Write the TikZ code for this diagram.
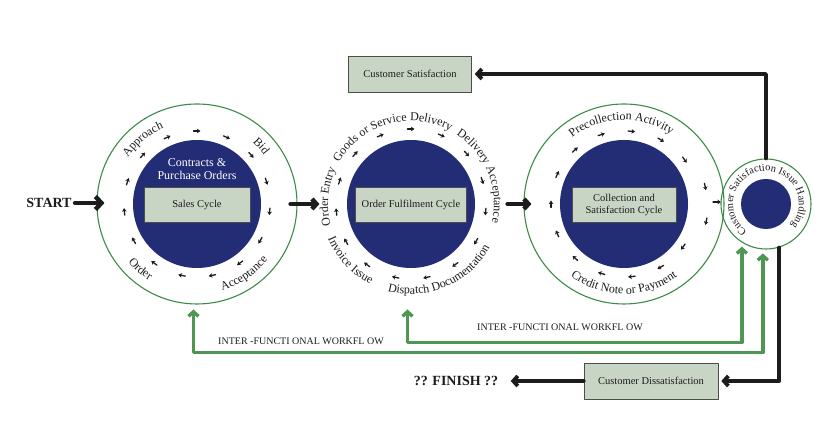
\documentclass[tikz,border=0pt]{standalone}
\usepackage{fontspec}
\setmainfont{Liberation Serif}
\usetikzlibrary{arrows.meta,calc,decorations.text}
\definecolor{navy}{RGB}{35,45,118}
\definecolor{ringgreen}{RGB}{62,138,72}
\definecolor{flowgreen}{RGB}{78,150,82}
\definecolor{boxfill}{RGB}{200,213,196}
\definecolor{ink}{RGB}{28,28,28}
\newcommand{\ringfont}{\fontsize{12}{14}\selectfont}
\newcommand{\smallringfont}{\fontsize{10.5}{12}\selectfont}
\begin{document}
\begin{tikzpicture}[x=1pt,y=1pt,line join=round,line cap=round,font=\fontsize{10.5}{12}\selectfont]
			\tikzset{ring/.style={circle,draw=ringgreen,line width=1.1pt,minimum size=200pt,inner sep=0pt},
				core/.style={circle,fill=navy,minimum size=128pt,inner sep=0pt},
				cyclebox/.style={draw=black!70,fill=boxfill,line width=0.6pt,minimum height=35pt,align=center,text=ink},
				tick/.style={ink,line width=1.3pt,-{Stealth[length=3.6pt,width=4.6pt]}},
				bigarrow/.style={ink,line width=3.8pt,-{Straight Barb[length=4.5pt,width=10pt]}},
				workflow/.style={flowgreen,line width=3.4pt,{Straight Barb[length=4.5pt,width=10pt]}-{Straight Barb[length=4.5pt,width=10pt]}},
				ring label/.style={postaction={decorate},decoration={text along path,text align=center,text color=ink,text={|\ringfont|#1}}},
				small ring label/.style={postaction={decorate},decoration={text along path,text align=center,text color=ink,text={|\smallringfont|#1}}}}
			\useasboundingbox (0,0) rectangle (825,435);
			% the four cycles
			\node[ring] (sales) at (197,231) {};
			\node[core] (sales core) at (sales) {};
			\node[ring,draw=none] (fulfil) at (411,231) {};
			\node[core] (fulfil core) at (fulfil) {};
			\node[ring] (collect) at (624,231) {};
			\node[core] (collect core) at (collect) {};
			\node[ring,minimum size=90pt] (issue) at (766,231) {};
			\node[core,minimum size=50pt] (issue core) at (issue) {};
			\node[cyclebox,minimum width=106pt] (sales box) at (197,230) {Sales Cycle};
			\node[cyclebox,minimum width=111pt] (fulfil box) at (411,230) {Order Fulfilment Cycle};
			\node[cyclebox,minimum width=104pt,inner sep=1pt] (collect box) at (624,230) {Collection and\\Satisfaction Cycle};
			\node[text=white,align=center,font=\fontsize{12}{13}\selectfont] (sales head) at (197,266) {Contracts \&\\Purchase Orders};
			% small arrows round the rings
			\foreach \a in {90,66,...,-246}\draw[tick] ($(sales)+(\a:73)+(\a+90:3.5)$)--++(\a-90:7);
			\foreach \a in {90,66,...,-246}\draw[tick] ($(fulfil)+(\a:75)+(\a+90:3.5)$)--++(\a-90:7);
			\foreach \a/\r in {108/73,84/73,60/74,36/75,12/83,-12/84,-36/73,-60/73,-84/73,-108/73,-132/73,-156/73,-180/73,156/73,132/73}\draw[tick] ($(collect)+(\a:\r)+(\a+90:3.5)$)--++(\a-90:7);
			\draw[tick] ($(collect)+(89,2)$)--++(8,0);
			% ring texts
			\path[ring label=Approach] ($(sales)+(175:83)$) arc[start angle=175,end angle=85,radius=83];
			\path[ring label=Bid] ($(sales)+(87:83)$) arc[start angle=87,end angle=-3,radius=83];
			\path[ring label=Acceptance] ($(sales)+(-101:90)$) arc[start angle=-101,end angle=-11,radius=90];
			\path[ring label=Order] ($(sales)+(-176:90)$) arc[start angle=-176,end angle=-86,radius=90];
			\path[ring label=Order Entry] ($(fulfil)+(220:83)$) arc[start angle=220,end angle=130,radius=83];
			\path[ring label=Goods or Service Delivery] ($(fulfil)+(170:83)$) arc[start angle=170,end angle=42,radius=83];
			\path[ring label=Delivery Acceptance] ($(fulfil)+(80:83)$) arc[start angle=80,end angle=-36,radius=83];
			\path[ring label=Dispatch Documentation] ($(fulfil)+(-130:90)$) arc[start angle=-130,end angle=-4,radius=90];
			\path[ring label=Invoice Issue] ($(fulfil)+(-180:90)$) arc[start angle=-180,end angle=-94,radius=90];
			\path[ring label=Precollection Activity] ($(collect)+(150:84)$) arc[start angle=150,end angle=34,radius=84];
			\path[ring label=Credit Note or Payment] ($(collect)+(-150:90)$) arc[start angle=-150,end angle=-30,radius=90];
			\path[small ring label=Customer Satisfaction Issue Handling] ($(issue)+(257:33)$) arc[start angle=257,end angle=-63,radius=33];
			% outcome boxes and ends
			\node[cyclebox,minimum width=123pt,minimum height=36pt] (sat) at (410,361) {Customer Satisfaction};
			\node[cyclebox,minimum width=134pt,minimum height=36pt] (dis) at (651,54) {Customer Dissatisfaction};
			\node[font=\bfseries\fontsize{14}{16}\selectfont,text=ink] (start) at (49,232) {START};
			\node[font=\bfseries\fontsize{14}{16}\selectfont,text=ink] (finish) at (456,54) {?? FINISH ??};
			\node[text=ink,font=\fontsize{10}{12}\selectfont] (flow note a) at (301,94) {INTER -FUNCTI ONAL WORKFL OW};
			\node[text=ink,font=\fontsize{10}{12}\selectfont] (flow note b) at (560,108) {INTER -FUNCTI ONAL WORKFL OW};
			% connectors
			\draw[workflow,shorten <=5pt,shorten >=4pt] (sales.-92)--++(0,-48)-|(issue.-94);
			\draw[workflow,shorten <=5pt,shorten >=4pt] (fulfil.-92)--++(0,-38)-|(issue.-122);
			\draw[bigarrow,line width=4.5pt,-{Straight Barb[length=6pt,width=13pt]},shorten >=-8pt] (start)--(start-|sales.west);
			\draw[bigarrow,line width=4.5pt,shorten <=-7pt,shorten >=-9pt] (sales.east)--(fulfil.west);
			\draw[bigarrow,line width=4.5pt,shorten <=-4pt,shorten >=-8pt] (fulfil.east)--(collect.west);
			\draw[bigarrow,shorten >=3pt] (issue.north)|-(sat.east);
			\draw[bigarrow,shorten >=3pt] (issue.-73)|-(dis.east);
			\draw[bigarrow,shorten >=9pt] (dis.west)--(finish.east);
		\end{tikzpicture}
\end{document}
